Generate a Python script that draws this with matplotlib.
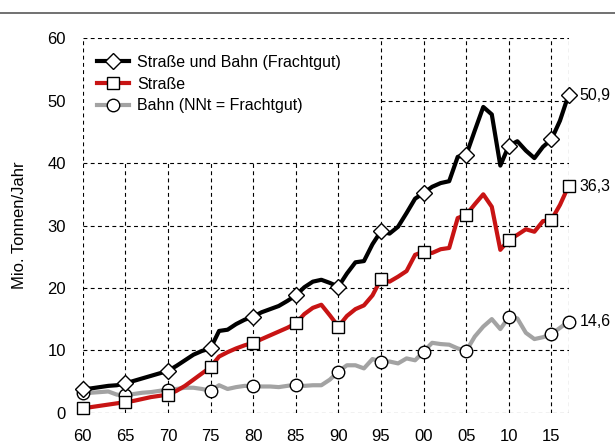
import numpy as np
import matplotlib
matplotlib.use("Agg")
import matplotlib.pyplot as plt
from matplotlib.lines import Line2D

plt.rcParams['font.family'] = ['Liberation Sans', 'DejaVu Sans']

# years 1960..2017
years = list(range(1960, 2018))

# Mio. Tonnen/Jahr
total = [3.8, 3.9, 4.1, 4.3, 4.4, 4.7, 5.1, 5.5, 5.9, 6.3,
         6.7, 7.5, 8.4, 9.3, 9.9, 10.3, 13.1, 13.3, 14.2, 14.9,
         15.4, 16.1, 16.6, 17.1, 17.9, 18.8, 20.1, 21.0, 21.3, 20.8,
         20.2, 22.3, 24.1, 24.3, 27.0, 29.1, 28.7, 29.8, 32.0, 34.3,
         35.2, 36.2, 36.8, 37.1, 41.0, 41.3, 45.2, 49.0, 47.8, 39.6,
         42.8, 43.5, 42.0, 40.8, 42.6, 43.8, 46.8, 50.9]
strasse = [0.7, 0.9, 1.1, 1.3, 1.5, 1.7, 1.9, 2.2, 2.5, 2.7,
           2.9, 3.5, 4.3, 5.3, 6.3, 7.3, 9.0, 9.7, 10.3, 10.8,
           11.2, 11.8, 12.4, 13.0, 13.6, 14.3, 15.8, 16.8, 17.3, 15.6,
           13.8, 15.5, 16.6, 17.2, 18.8, 21.4, 21.0, 21.8, 22.7, 25.3,
           25.8, 25.6, 26.2, 26.4, 31.2, 31.7, 33.4, 35.0, 33.0, 26.1,
           27.7, 28.5, 29.4, 29.0, 30.7, 30.9, 33.3, 36.3]
bahn = [3.1, 3.2, 3.3, 3.4, 2.9, 2.8, 3.0, 3.2, 3.3, 3.5,
        3.7, 3.8, 4.0, 4.0, 3.8, 3.5, 4.4, 3.8, 4.1, 4.3,
        4.3, 4.2, 4.2, 4.1, 4.3, 4.5, 4.3, 4.4, 4.4, 5.3,
        6.6, 7.6, 7.6, 7.1, 8.6, 8.2, 8.2, 7.9, 8.7, 8.4,
        9.8, 11.2, 11.0, 10.9, 10.3, 9.9, 12.2, 13.8, 15.0, 13.4,
        15.3, 15.1, 12.8, 11.8, 12.1, 12.6, 13.6, 14.6]

tick_years = [1960, 1965, 1970, 1975, 1980, 1985, 1990, 1995, 2000, 2005, 2010, 2015]
tick_labels = ['60', '65', '70', '75', '80', '85', '90', '95', '00', '05', '10', '15']
end_labels = ['50,9', '36,3', '14,6']

fig = plt.figure(figsize=(6.15, 4.46), dpi=100)
ax = fig.add_axes([82.7/615, 33.3/446, (568.5-82.7)/615, (412.7-38.3)/446])
ax.set_xlim(1960, 2017)
ax.set_ylim(0, 60)

# dashed grid, left open where the legend sits
dash = dict(color='black', linewidth=0.8, linestyles=(0, (3.5, 3)), zorder=1)
for yr in tick_years + [2017]:
    top = 40 if 1960 < yr < 1995 else 60
    ax.vlines(yr, 0, top, **dash)
for v in [0, 10, 20, 30, 40, 60]:
    ax.hlines(v, 1960, 2017, **dash)
ax.hlines(50, 1995, 2017, **dash)

marks = [i for i, y in enumerate(years) if y % 5 == 0] + [len(years) - 1]

ax.plot(years, bahn, color='#a3a3a3', lw=3, marker='o', ms=9, mfc='white', mec='black',
        mew=1, markevery=marks, zorder=3, clip_on=False)
ax.plot(years, strasse, color='#c81414', lw=3, marker='s', ms=8, mfc='white', mec='black',
        mew=1, markevery=marks, zorder=4, clip_on=False)
ax.plot(years, total, color='black', lw=3, marker='D', ms=8, mfc='white', mec='black',
        mew=1, markevery=marks, zorder=5, clip_on=False)

for val, lab in zip([total[-1], strasse[-1], bahn[-1]], end_labels):
    ax.annotate(lab, (years[-1], val), xytext=(8, 0), textcoords='offset points',
                va='center', ha='left', fontsize=11.5)

ax.set_xticks(tick_years)
ax.set_xticklabels(tick_labels)
ax.set_yticks(range(0, 61, 10))
ax.tick_params(length=0, labelsize=12, pad=12)
for s in ax.spines.values():
    s.set_visible(False)
ax.set_ylabel('Mio. Tonnen/Jahr', fontsize=12)
ax.yaxis.set_label_coords(-0.115, 0.5)

handles = [
    Line2D([], [], color='black', lw=3, marker='D', ms=8, mfc='white', mec='black'),
    Line2D([], [], color='#c81414', lw=3, marker='s', ms=8, mfc='white', mec='black'),
    Line2D([], [], color='#a3a3a3', lw=3, marker='o', ms=9, mfc='white', mec='black'),
]
ax.legend(handles, ['Straße und Bahn (Frachtgut)', 'Straße', 'Bahn (NNt = Frachtgut)'],
          loc='upper left', bbox_to_anchor=(97/615, 1 - 55/446), bbox_transform=fig.transFigure,
          frameon=False, fontsize=11.5, handlelength=2.0, handletextpad=0.5,
          labelspacing=0.42, borderaxespad=0, borderpad=0)

fig.add_artist(Line2D([0, 1], [1 - 12.5/446, 1 - 12.5/446], color='#666666', lw=1.3,
                      transform=fig.transFigure))

fig.savefig('out.png', dpi=100)
